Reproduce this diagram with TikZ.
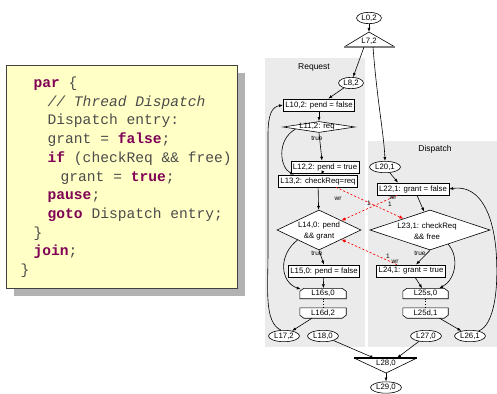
\documentclass[tikz,border=0pt]{standalone}
\usepackage{fontspec}
\setmainfont{Liberation Sans}
\newfontfamily\codefont{Liberation Mono}
\usetikzlibrary{arrows.meta,calc,shapes.geometric}
\definecolor{panel}{RGB}{235,235,235}
\definecolor{codebg}{RGB}{255,255,198}
\definecolor{kw}{RGB}{127,0,85}
\definecolor{codetxt}{RGB}{75,75,75}
\definecolor{shadowc}{RGB}{178,178,178}
\newcommand{\kwd}[1]{\textbf{\color{kw}#1}}
\begin{document}
\begin{tikzpicture}[x=1pt,y=-1pt,
 lab/.style={font=\fontsize{7.8}{11}\selectfont, text=black},
 ell/.style={ellipse, draw, line width=0.6pt, inner xsep=1.2pt, inner ysep=0.8pt, lab, fill=white},
 box/.style={rectangle, draw, line width=0.7pt, inner xsep=2pt, inner ysep=0pt, minimum height=12pt, lab, fill=white},
 dia/.style={diamond, draw, line width=0.6pt, inner sep=0pt, fill=white},
 hexbox/.style={inner sep=0pt, minimum width=46pt, minimum height=10pt},
 hexline/.style={draw, fill=white, line width=0.6pt},
 arr/.style={-{Latex[length=4pt,width=3pt]}, line width=0.6pt},
 dep/.style={-{Latex[length=4pt,width=3.5pt]}, red, dash pattern=on 2pt off 2pt, line width=0.7pt},
 small/.style={font=\fontsize{6.5}{7}\selectfont, inner sep=0pt},
 code/.style={anchor=base west, inner sep=0pt, font=\codefont\fontsize{14.6}{17}\selectfont, text=codetxt},
]
\useasboundingbox (0,0) rectangle (497,393);

% code box
\fill[shadowc] (14,73) rectangle (245,296);
\draw[fill=codebg, draw=black!75, line width=0.8pt] (6,65) rectangle (237,288);
\node[code] (c0) at (33.5,87.5) {\kwd{par} \{};
\node[code] (c1) at (47.5,106.2) {\textit{// Thread Dispatch}};
\node[code] (c2) at (47.5,124.9) {Dispatch entry:};
\node[code] (c3) at (47.5,143.6) {grant = \kwd{false};};
\node[code] (c4) at (47.5,162.3) {\kwd{if} (checkReq \&\& free)};
\node[code] (c5) at (60.5,181) {grant = \kwd{true};};
\node[code] (c6) at (47.5,199.7) {\kwd{pause};};
\node[code] (c7) at (47.5,218.4) {\kwd{goto} Dispatch entry;};
\node[code] (c8) at (33.5,237.1) {\}};
\node[code] (c9) at (33.5,255.8) {\kwd{join};};
\node[code] (c10) at (20.5,274.5) {\}};

% panels
\fill[panel] (265,58) rectangle (365,347);
\fill[panel] (368,141) rectangle (497,347);
\node[lab, font=\fontsize{8.5}{10}\selectfont] (reqlab) at (314,67) {Request};
\node[lab, font=\fontsize{8.5}{10}\selectfont] (displab) at (435,149) {Dispatch};

% top
\node[ell] (L0) at (369,18) {L0,2};
\coordinate (T7a) at (369,32);
\coordinate (T7l) at (344,47);
\coordinate (T7r) at (395,47);
\coordinate (T7o1) at (364,47);
\coordinate (T7o2) at (373,47);
\draw[line width=0.6pt, fill=white] (T7l) -- (T7a) -- (T7r);
\draw[line width=1.2pt, gray] (T7l) -- (T7r);
\node[lab, inner sep=0pt] (L7) at (369,41.5) {L7,2};

% request thread
\node[ell] (L8) at (351,83) {L8,2};
\node[box] (L10) at (319,105) {L10,2: pend = false};
\node[dia, minimum width=72pt, minimum height=11pt] (L11) at (319,127) {};
\node[lab, inner sep=0pt] (L11t) at (317,127) {L11,2: req};
\node[box] (L12) at (325,167) {L12,2: pend = true};
\node[box] (L13) at (318,181) {L13,2: checkReq=req};
\node[dia, minimum width=84pt, minimum height=40pt] (L14) at (319,230) {};
\node[lab, align=center, inner sep=0pt] (L14t) at (319,231) {L14,0: pend\\\&\& grant};
\node[box] (L15) at (324,271) {L15,0: pend = false};
\node[hexbox] (L16s) at (323,293.5) {};
\draw[hexline] (L16s.south west) -- ($(L16s.north west)+(0,3)$) -- ($(L16s.north west)+(4,0)$) -- ($(L16s.north east)+(-4,0)$) -- ($(L16s.north east)+(0,3)$) -- (L16s.south east) -- cycle;
\node[lab, inner sep=0pt] (L16st) at (L16s) {L16s,0};
\node[hexbox] (L16d) at (323,313) {};
\draw[hexline] (L16d.north west) -- ($(L16d.south west)+(0,-3)$) -- ($(L16d.south west)+(4,0)$) -- ($(L16d.south east)+(-4,0)$) -- ($(L16d.south east)+(0,-3)$) -- (L16d.north east) -- cycle;
\node[lab, inner sep=0pt] (L16dt) at (L16d) {L16d,2};
\node[ell] (L17) at (284,336) {L17,2};
\node[ell] (L18) at (323,336) {L18,0};

% dispatch thread
\node[ell] (L20) at (385,167) {L20,1};
\node[box] (L22) at (413,189) {L22,1: grant = false};
\node[dia, minimum width=120pt, minimum height=40pt] (L23) at (430,230) {};
\node[lab, align=center, inner sep=0pt] (L23t) at (427,231) {L23,1: checkReq\\\&\& free};
\node[box] (L24) at (411,271) {L24,1: grant = true};
\node[hexbox, minimum width=45pt] (L25s) at (425.5,293.5) {};
\draw[hexline] (L25s.south west) -- ($(L25s.north west)+(0,3)$) -- ($(L25s.north west)+(4,0)$) -- ($(L25s.north east)+(-4,0)$) -- ($(L25s.north east)+(0,3)$) -- (L25s.south east) -- cycle;
\node[lab, inner sep=0pt] (L25st) at (L25s) {L25s,0};
\node[hexbox, minimum width=45pt] (L25d) at (425.5,313) {};
\draw[hexline] (L25d.north west) -- ($(L25d.south west)+(0,-3)$) -- ($(L25d.south west)+(4,0)$) -- ($(L25d.south east)+(-4,0)$) -- ($(L25d.south east)+(0,-3)$) -- (L25d.north east) -- cycle;
\node[lab, inner sep=0pt] (L25dt) at (L25d) {L25d,1};
\node[ell] (L27) at (426,336) {L27,0};
\node[ell] (L26) at (470,336) {L26,1};

% join
\coordinate (T28l) at (354,358);
\coordinate (T28r) at (417,358);
\coordinate (T28a) at (386,373);
\coordinate (T28i1) at (374,358);
\coordinate (T28i2) at (397,358);
\draw[line width=0.6pt, fill=white] (T28l) -- (T28a) -- (T28r);
\draw[line width=1.1pt] (T28l) -- (T28r);
\node[lab, inner sep=0pt] (L28) at (386,363) {L28,0};
\node[ell] (L29) at (386,387.5) {L29,0};

% control edges
\draw[arr] (L0) -- (T7a);
\draw[arr] (T7o1) -- (L8);
\draw[arr] (T7o2) .. controls (377,100) and (384,135) .. (L20.north);
\draw[arr] (L8) -- (L10);
\draw[arr] (L10) -- (L11);
\draw[arr] (L11.south) -- ([xshift=-3pt]L12.north);
\node[small] (tr1) at (317,138) {true};
\draw[arr] (L11.185) .. controls (276,140) and (280,168) .. ([xshift=-24pt]L13.north);
\draw[arr] (L12) -- (L13);
\draw[arr] (L13) -- (L14);
\draw[arr] (L14.south) -- (L15.north);
\node[small] (tr2) at (317,253) {true};
\draw[arr] (L14.205) .. controls (278,255) and (280,282) .. ($(L16s.north west)+(1,1)$);
\draw[arr] (L15) -- (L16s);
\draw[dotted, line width=0.6pt] (L16s) -- (L16d);
\draw[arr] ($(L16d.south)+(-11,0)$) -- (L17);
\draw[arr] (L17.118) .. controls (264,322) and (268,290) .. (268,250) -- (268,135) .. controls (268,114) and (272,107) .. (L10.west);
\draw[arr] (L18) -- (T28i1);
\draw[arr] (L27) -- (T28i2);
\draw[arr] (T28a) -- (L29);

\draw[arr] (L20) -- ([xshift=-15pt]L22.north);
\draw[arr] ([xshift=4pt]L22.south) -- (L23.108);
\draw[arr] (L23.south) -- ([xshift=5pt]L24.north);
\node[small] (tr3) at (420,253) {true};
\draw[arr] (L23.322) .. controls (460,258) and (455,280) .. ($(L25s.north east)+(-9,0)$);
\draw[arr] (L24) -- (L25s);
\draw[dotted, line width=0.6pt] (L25s) -- (L25d);
\draw[arr] ($(L25d.south)+(14,0)$) -- (L26);
\draw[arr] (L26.30) .. controls (494,325) and (499,290) .. (496,250) .. controls (492,205) and (475,185) .. (L22.east);

% dependence edges
\draw[dep] ($(L13.south)+(18,0)$) -- (L23.157);
\node[small] (w1) at (338,199) {wr};
\node[small] (n1) at (369,203) {1};
\draw[dep] ($(L22.south)+(-16,0)$) -- (L14.23);
\node[small] (w2) at (393,197.5) {wr};
\node[small] (n2) at (390,204) {1};
\draw[dep] ($(L24.north)+(-14,0)$) -- (L14.337);
\node[small] (n3) at (388,256) {1};
\node[small] (w3) at (395,261.5) {wr};
\end{tikzpicture}
\end{document}
